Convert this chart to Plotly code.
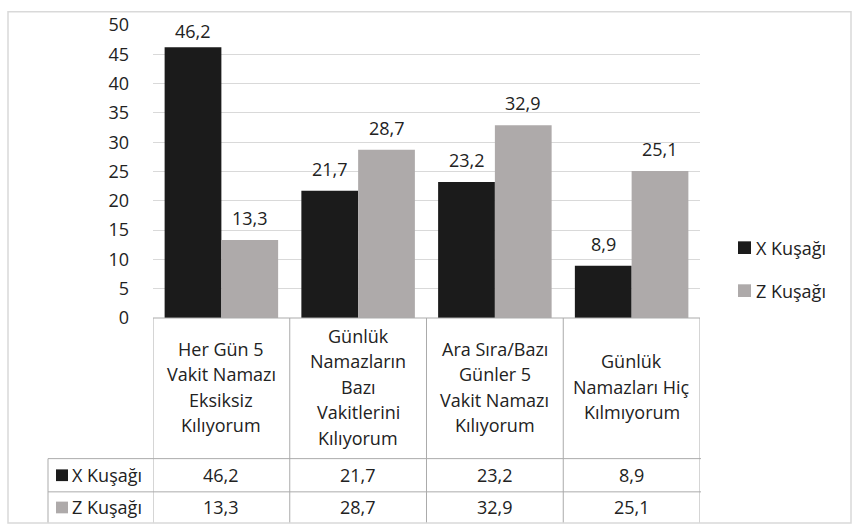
import plotly.graph_objects as go

# ---- data ----
categories = [
    "Her Gün 5<br>Vakit Namazı<br>Eksiksiz<br>Kılıyorum",
    "Günlük<br>Namazların<br>Bazı<br>Vakitlerini<br>Kılıyorum",
    "Ara Sıra/Bazı<br>Günler 5<br>Vakit Namazı<br>Kılıyorum",
    "Günlük<br>Namazları Hiç<br>Kılmıyorum",
]
series_names = ["X Kuşağı", "Z Kuşağı"]
x_kusagi = [46.2, 21.7, 23.2, 8.9]
z_kusagi = [13.3, 28.7, 32.9, 25.1]
y_ticks = [0, 5, 10, 15, 20, 25, 30, 35, 40, 45, 50]

# ---- style ----
FONT = "Open Sans"
TXT = "#222222"
COL_X = "#1b1b1b"
COL_Z = "#aeaaaa"
GRID = "#d9d9d9"
TABLE = "#ababab"

W, H = 853, 532
L, R, T, B = 153, 153, 18, 214
PW, PH = W - L - R, H - T - B


def px_x(px):
    return (px - L) / PW


def px_y(py):
    return (H - B - py) / PH


def fmt(v):
    return f"{v:.1f}".replace(".", ",")


idx = list(range(len(categories)))
bargap = 0.17
bw = (1 - bargap) / 2
series = [x_kusagi, z_kusagi]
colors = [COL_X, COL_Z]

fig = go.Figure()
for k, (name, vals, col) in enumerate(zip(series_names, series, colors)):
    fig.add_trace(go.Bar(
        x=idx, y=vals, name=name,
        marker=dict(color=col, line=dict(width=0)),
        hoverinfo="y", showlegend=False,
    ))

annotations = []
shapes = []

# data labels above bars
for k, vals in enumerate(series):
    off = -bw / 2 if k == 0 else bw / 2
    for i, v in enumerate(vals):
        annotations.append(dict(
            x=i + off, y=min(v + 3.75, 48.9), xref="x", yref="y",
            text=fmt(v), showarrow=False, yanchor="middle",
            font=dict(family=FONT, size=18, color=TXT),
        ))

# ---- legend (right side) ----
legend_centers = [246, 290]
for k, (name, col) in enumerate(zip(series_names, colors)):
    cy = legend_centers[k]
    shapes.append(dict(type="rect", xref="paper", yref="paper",
                       x0=px_x(738), x1=px_x(751), y0=px_y(cy - 6.5), y1=px_y(cy + 6.5),
                       fillcolor=col, line=dict(width=0)))
    annotations.append(dict(
        x=px_x(754), y=px_y(cy), xref="paper", yref="paper", text=name, showarrow=False,
        xanchor="left", yanchor="middle", font=dict(family=FONT, size=18, color=TXT),
    ))

# ---- data table ----
y_top = px_y(318)
y_r1 = px_y(462)
y_r2 = px_y(496)
y_bot = px_y(528)
x_left = px_x(48)
line = dict(color=TABLE, width=1)

shapes.append(dict(type="line", xref="x", yref="paper", x0=-0.5, x1=len(categories) - 0.5,
                   y0=y_top, y1=y_top, line=line))
for yy in (y_r1, y_r2):
    shapes.append(dict(type="line", xref="paper", yref="paper", x0=x_left, x1=px_x(701),
                       y0=yy, y1=yy, line=line))
for j in range(len(categories) + 1):
    shapes.append(dict(type="line", xref="x", yref="paper", x0=j - 0.5, x1=j - 0.5,
                       y0=y_top, y1=y_bot, line=line))
shapes.append(dict(type="line", xref="paper", yref="paper", x0=x_left, x1=x_left,
                   y0=y_r1, y1=y_bot, line=line))

# category headers (line by line)
line_gap = 26
block_center = 388.5
for i, c in enumerate(categories):
    lines = c.split("<br>")
    n = len(lines)
    for li, t in enumerate(lines):
        py = block_center + (li - (n - 1) / 2) * line_gap
        annotations.append(dict(
            x=i, y=px_y(py), xref="x", yref="paper", text=t, showarrow=False,
            yanchor="middle", font=dict(family=FONT, size=18, color=TXT),
        ))

# table rows
row_centers = [479, 512]
for k, (name, vals, col) in enumerate(zip(series_names, series, colors)):
    cy = row_centers[k]
    shapes.append(dict(type="rect", xref="paper", yref="paper",
                       x0=px_x(56), x1=px_x(68), y0=px_y(cy - 6), y1=px_y(cy + 6),
                       fillcolor=col, line=dict(width=0)))
    annotations.append(dict(
        x=px_x(70), y=px_y(cy), xref="paper", yref="paper", text=name, showarrow=False,
        xanchor="left", yanchor="middle", font=dict(family=FONT, size=18, color=TXT),
    ))
    for i, v in enumerate(vals):
        annotations.append(dict(
            x=i, y=px_y(cy), xref="x", yref="paper", text=fmt(v), showarrow=False,
            yanchor="middle", font=dict(family=FONT, size=18, color=TXT),
        ))

# outer chart border
shapes.append(dict(type="rect", xref="paper", yref="paper",
                   x0=px_x(8), x1=px_x(851), y0=px_y(528), y1=px_y(4.5),
                   line=dict(color=GRID, width=1.5), fillcolor="rgba(0,0,0,0)", layer="above"))

fig.update_layout(
    width=W, height=H,
    margin=dict(l=L, r=R, t=T, b=B),
    paper_bgcolor="white", plot_bgcolor="white",
    barmode="group", bargap=bargap, bargroupgap=0,
    font=dict(family=FONT, size=18, color=TXT),
    xaxis=dict(range=[-0.5, len(categories) - 0.5], showticklabels=False, showgrid=False,
               zeroline=False, showline=False, ticks="", fixedrange=True),
    yaxis=dict(range=[0, 50], tickvals=y_ticks, ticktext=[str(t) for t in y_ticks],
               showgrid=True, gridcolor=GRID, gridwidth=1, zeroline=False, showline=False,
               ticks="", ticklabelstandoff=23, tickfont=dict(family=FONT, size=18, color=TXT)),
    showlegend=False,
    annotations=annotations,
    shapes=shapes,
)

fig.write_html(
    "out.html",
    config={"displayModeBar": False},
    post_script="document.body.style.margin='0px';document.body.style.overflow='hidden';",
)
